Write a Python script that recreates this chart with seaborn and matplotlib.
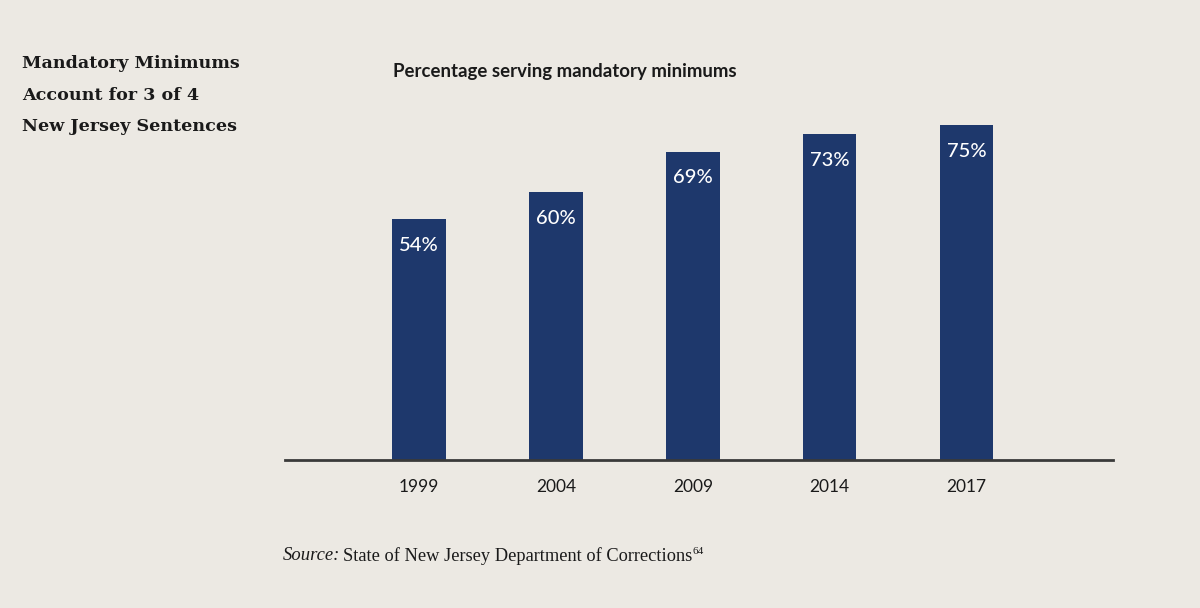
import matplotlib
matplotlib.use("Agg")
import matplotlib.pyplot as plt
import seaborn as sns
import pandas as pd

years = ["1999", "2004", "2009", "2014", "2017"]
values = [54, 60, 69, 73, 75]
labels = ["54%", "60%", "69%", "73%", "75%"]

BG = "#ECE9E3"
BAR = "#1E386C"

sns.set_theme(style="white")
plt.rcParams["font.family"] = ["Lato", "DejaVu Sans"]

fig = plt.figure(figsize=(12, 6.08), dpi=100, facecolor=BG)
ax = fig.add_axes([0.2375, 0.2434, 0.69, 0.5878])
ax.set_facecolor(BG)

df = pd.DataFrame({"year": years, "value": values})
sns.barplot(data=df, x="year", y="value", color=BAR, width=0.39, saturation=1,
            linewidth=0, edgecolor="none", ax=ax)

ax.bar_label(ax.containers[0], labels=labels, padding=-25, color="white",
             fontsize=14.5, fontweight="medium")

ax.set_xlim(-0.98, 5.07)
ax.set_ylim(0, 80)
ax.set_xlabel("")
ax.set_ylabel("")
ax.set_yticks([])
ax.tick_params(axis="x", length=0, pad=14, labelsize=12.5, labelcolor="#1a1a1a")
for s in ["top", "right", "left"]:
    ax.spines[s].set_visible(False)
ax.spines["bottom"].set_color("#3a3a3a")
ax.spines["bottom"].set_linewidth(2)

# Title block
for i, line in enumerate(["Mandatory Minimums", "Account for 3 of 4", "New Jersey Sentences"]):
    fig.text(22 / 1200, 1 - (64 + 31.5 * i) / 608, line, fontsize=12.6, fontweight="bold",
             family=["DejaVu Serif"], color="#1a1a1a", va="center", ha="left")

fig.text(393 / 1200, 1 - 71 / 608, "Percentage serving mandatory minimums",
         fontsize=13.4, fontweight="bold", color="#1a1a1a", va="center", ha="left")

src = fig.text(283 / 1200, 1 - 556 / 608, "Source:", fontsize=13.4, style="italic",
               family=["Liberation Serif"], color="#1a1a1a", va="center", ha="left")
fig.canvas.draw()
bb = src.get_window_extent()
x1 = bb.x1 / 1200 + 3 / 1200
src2 = fig.text(x1, 1 - 556 / 608, "State of New Jersey Department of Corrections",
                fontsize=13.2, family=["Liberation Serif"], color="#1a1a1a",
                va="center", ha="left")
fig.canvas.draw()
bb2 = src2.get_window_extent()
fig.text(bb2.x1 / 1200, 1 - 551 / 608, "64", fontsize=8,
         family=["Liberation Serif"], color="#1a1a1a", va="center", ha="left")

fig.savefig("out.png", dpi=100, facecolor=BG)
